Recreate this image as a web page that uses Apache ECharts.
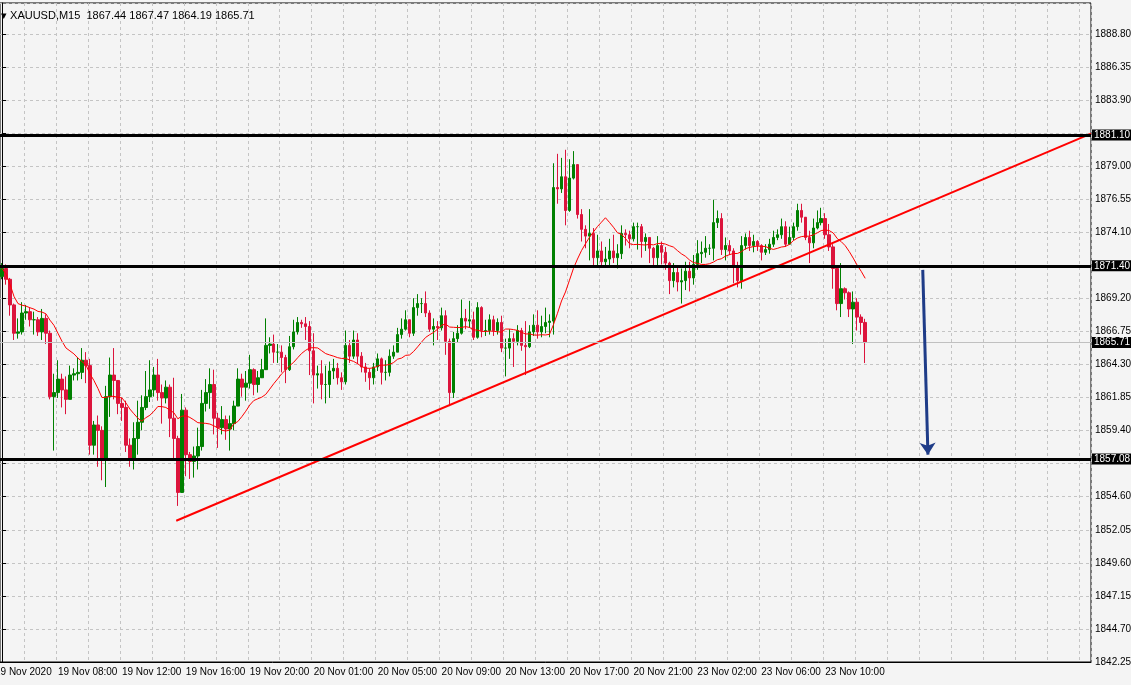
<!DOCTYPE html>
<html>
<head>
<meta charset="utf-8">
<script src="https://cdn.jsdelivr.net/npm/echarts@6/dist/echarts.min.js"></script>
<style>
html,body{margin:0;padding:0;background:#f4f4f4;}
#container{width:1131px;height:685px;}
</style>
</head>
<body>
<div id="container"></div>
<script>
// XAUUSD M15 closes / highs / lows (open = previous close)
var closes = [
1871.2,1870.4,1868.5,1866.4,1866.5,1867.9,1868.0,1867.4,1867.4,1866.5,1867.5,1866.4,
1861.7,1862.0,1863.0,1862.2,1861.5,1863.3,1863.4,1863.5,1864.4,1864.0,1858.1,1859.6,
1859.2,1857.0,1861.7,1863.3,1862.9,1861.2,1860.9,1858.1,1857.0,1858.6,1859.8,1860.9,
1861.7,1862.2,1863.3,1862.0,1861.6,1862.4,1860.1,1858.6,1854.6,1860.7,1857.4,1856.9,
1857.3,1858.0,1861.2,1862.0,1862.6,1860.1,1859.4,1860.0,1859.3,1859.7,1861.0,1863.0,
1862.4,1862.7,1863.7,1862.6,1863.1,1863.7,1865.5,1865.6,1865.0,1865.0,1864.6,1863.7,
1865.4,1866.5,1867.2,1867.1,1866.9,1865.1,1863.3,1863.4,1862.6,1862.6,1863.6,1863.8,
1863.1,1862.8,1865.5,1864.7,1865.9,1864.7,1863.9,1863.5,1863.1,1863.9,1864.5,1863.5,
1863.5,1864.7,1865.0,1866.3,1866.7,1867.4,1866.4,1868.3,1868.6,1868.6,1867.9,1866.7,
1866.9,1866.8,1867.7,1865.8,1862.0,1866.0,1866.4,1867.5,1867.3,1867.4,1866.1,1868.3,
1866.6,1866.6,1867.4,1866.6,1867.2,1865.3,1865.3,1866.0,1865.8,1866.6,1865.5,1865.4,
1866.5,1867.0,1866.5,1866.9,1867.2,1867.3,1877.2,1877.1,1878.0,1875.5,1877.9,1878.9,
1875.2,1874.1,1873.6,1873.8,1872.0,1872.5,1871.7,1871.9,1872.5,1872.0,1872.3,1873.8,
1873.7,1873.4,1874.3,1874.3,1873.2,1873.5,1872.7,1872.0,1872.9,1872.4,1871.6,1870.3,
1870.9,1870.2,1870.3,1871.0,1870.5,1871.5,1872.3,1872.4,1872.7,1872.7,1874.6,1874.9,
1872.6,1872.9,1872.5,1871.4,1870.3,1872.9,1873.5,1872.9,1873.2,1872.9,1872.4,1872.6,
1873.0,1873.5,1873.7,1874.3,1873.0,1873.5,1874.3,1875.5,1875.0,1873.5,1873.1,1874.2,
1874.6,1874.9,1873.7,1872.8,1871.2,1868.6,1869.7,1869.4,1868.2,1868.7,1867.6,1867.2,1865.71
];
var highs = [
1871.6,1871.5,1870.5,1868.6,1867.5,1868.7,1868.5,1868.3,1868.0,1867.6,1868.2,1867.8,
1866.6,1863.4,1864.4,1863.4,1863.2,1864.0,1863.8,1864.6,1865.3,1865.0,1864.5,1859.9,
1860.3,1859.5,1862.5,1864.6,1865.3,1862.5,1861.6,1861.4,1858.6,1859.8,1861.4,1861.8,
1863.6,1864.4,1863.9,1864.5,1862.6,1862.9,1862.6,1863.1,1858.8,1861.9,1860.9,1857.6,
1858.0,1859.4,1862.2,1863.0,1863.8,1863.7,1860.5,1861.0,1860.3,1860.3,1861.4,1863.8,
1863.4,1863.6,1864.8,1863.8,1863.6,1864.5,1867.5,1866.1,1866.3,1865.6,1865.5,1864.8,
1866.2,1867.4,1867.6,1867.4,1867.6,1867.3,1866.4,1864.0,1864.4,1864.0,1864.3,1864.5,
1864.2,1863.5,1866.6,1865.9,1866.6,1866.4,1865.0,1864.2,1863.8,1864.2,1864.9,1864.6,
1864.4,1865.2,1865.5,1866.8,1867.5,1868.1,1867.4,1869.0,1869.3,1869.0,1869.5,1868.1,
1867.5,1867.3,1868.3,1868.1,1866.0,1866.5,1867.0,1868.9,1868.2,1868.8,1868.0,1868.7,
1868.4,1867.4,1867.8,1867.7,1867.5,1867.7,1866.0,1866.7,1866.4,1867.0,1866.8,1867.3,
1867.0,1867.8,1868.1,1867.7,1868.3,1867.8,1879.0,1879.7,1879.4,1880.0,1879.3,1879.9,
1878.8,1875.6,1874.4,1875.6,1874.2,1873.7,1873.2,1872.8,1873.4,1873.7,1873.0,1874.4,
1874.1,1874.0,1874.6,1874.6,1874.5,1873.8,1873.5,1872.8,1873.6,1873.2,1872.8,1871.7,
1871.6,1871.4,1871.2,1871.7,1871.7,1872.2,1873.3,1873.2,1873.6,1873.0,1876.3,1875.5,
1875.3,1873.5,1873.3,1872.7,1871.7,1873.6,1873.8,1874.0,1873.7,1873.3,1873.0,1873.0,
1873.4,1874.0,1874.1,1874.9,1874.7,1874.3,1874.6,1876.0,1876.0,1874.8,1874.0,1874.9,
1875.5,1875.7,1875.3,1874.5,1873.0,1871.4,1871.6,1869.8,1869.5,1869.5,1869.0,1867.8,1867.47
];
var lows = [
1870.4,1870.0,1867.7,1865.9,1866.0,1866.3,1867.4,1866.9,1866.3,1866.2,1865.9,1865.6,
1861.5,1857.7,1861.6,1860.9,1860.4,1861.5,1862.9,1862.9,1863.0,1862.7,1857.4,1857.4,
1856.5,1855.5,1855.0,1860.2,1861.5,1860.4,1859.9,1857.6,1856.5,1856.3,1857.4,1859.2,
1860.7,1861.3,1861.7,1861.4,1859.7,1861.2,1858.7,1857.1,1853.6,1854.7,1855.8,1855.6,
1855.7,1856.3,1857.7,1860.6,1860.8,1858.9,1857.9,1858.9,1858.5,1857.7,1859.2,1861.4,
1861.7,1861.4,1862.3,1861.8,1862.0,1863.2,1863.8,1864.9,1864.2,1864.2,1863.5,1862.7,
1863.6,1865.2,1866.3,1866.8,1865.9,1863.3,1861.2,1862.3,1861.5,1861.2,1861.6,1863.0,
1862.6,1862.2,1862.6,1864.2,1864.5,1864.1,1863.5,1862.8,1862.2,1862.6,1863.6,1862.6,
1862.9,1863.2,1864.5,1865.0,1866.0,1866.6,1866.1,1866.2,1867.7,1867.9,1867.6,1866.5,
1865.5,1865.9,1866.6,1864.8,1861.0,1861.6,1865.7,1866.3,1866.7,1866.8,1865.9,1866.0,
1866.1,1866.2,1866.3,1866.2,1866.3,1865.0,1863.2,1864.5,1863.9,1865.5,1865.1,1863.3,
1865.3,1866.2,1866.0,1866.1,1866.4,1866.1,1866.3,1876.0,1876.8,1874.4,1875.4,1877.8,
1874.9,1873.2,1872.7,1871.8,1871.3,1871.3,1871.3,1871.3,1871.4,1871.6,1871.2,1871.9,
1872.9,1872.7,1873.2,1872.6,1872.0,1872.5,1871.6,1871.3,1871.3,1871.5,1871.1,1869.3,
1869.8,1869.5,1868.6,1869.6,1869.5,1870.0,1871.1,1871.6,1872.0,1872.2,1871.8,1874.2,
1872.2,1871.8,1872.2,1870.1,1869.8,1869.7,1872.6,1872.5,1872.4,1872.5,1871.8,1872.2,
1872.3,1872.8,1873.3,1873.4,1872.8,1873.0,1873.3,1874.0,1874.6,1873.3,1871.6,1872.7,
1874.1,1874.4,1873.4,1872.5,1869.7,1868.1,1867.6,1868.9,1867.6,1865.6,1866.6,1866.3,1864.19
];
var firstOpen = 1870.6;
var timeLabels = ['19 Nov 08:00','19 Nov 12:00','19 Nov 16:00','19 Nov 20:00','20 Nov 01:00','20 Nov 05:00',
  '20 Nov 09:00','20 Nov 13:00','20 Nov 17:00','20 Nov 21:00','23 Nov 02:00','23 Nov 06:00','23 Nov 10:00'];
var firstLabelIdx = 14, labelStep = 16, totalSlots = 273;
var yLabels = ['1842.25','1844.70','1847.15','1849.60','1852.05','1854.60','','1859.40','1861.85','1864.30',
  '1866.75','1869.20','','1874.10','1876.55','1879.00','','1883.90','1886.35','1888.80'];
var levels = [1881.10, 1871.40, 1857.08];
var lastPrice = 1865.71;
var trendLine = [[43.6, 1852.5], [272.5, 1881.2]];
var arrowFrom = [230.4, 1871.1], arrowTo = [231.7, 1857.4];
var maPeriod = 14;

var cats = [], labelMap = {};
for (var i = 0; i < totalSlots; i++) cats.push(String(i));
timeLabels.forEach(function (t, k) { labelMap[firstLabelIdx + k * labelStep] = t; });

var ohlc = closes.map(function (c, i) {
  var o = i === 0 ? firstOpen : closes[i - 1];
  return [o, c, lows[i], highs[i]];
});
var ma = closes.map(function (c, i) {
  var s = 0, n = 0;
  for (var j = Math.max(0, i - maPeriod + 1); j <= i; j++) { s += closes[j]; n++; }
  return +(s / n).toFixed(2);
});

var font = 'Liberation Sans';
var myChart = echarts.init(document.getElementById('container'));
var option = {
  backgroundColor: '#f4f4f4',
  animation: false,
  title: {
    text: '\u25BE XAUUSD,M15  1867.44 1867.47 1864.19 1865.71',
    left: -4, top: 5,
    textStyle: { fontSize: 11, fontWeight: 'normal', color: '#000', fontFamily: font }
  },
  graphic: [{
    type: 'text', left: -5, top: 667,
    style: { text: '19 Nov 2020', fontSize: 10, fill: '#000', fontFamily: font }
  }],
  grid: { left: 0, right: 40, top: 3, bottom: 23, outerBoundsMode: 'none', containLabel: false,
    show: true, borderColor: '#000', borderWidth: 1, backgroundColor: '#f4f4f4' },
  xAxis: [{
    type: 'category', data: cats, boundaryGap: true,
    axisLine: { lineStyle: { color: '#000' } },
    axisTick: { interval: function (i) { return labelMap[i] !== undefined; }, length: 4, lineStyle: { color: '#000' } },
    axisLabel: {
      interval: function (i) { return labelMap[i] !== undefined; },
      formatter: function (v, i) { return labelMap[i] || ''; },
      hideOverlap: false, showMinLabel: true, showMaxLabel: true,
      align: 'left', margin: 5, fontSize: 10, color: '#000', fontFamily: font
    },
    splitLine: { show: true, interval: function (i) { return (i - 6) % 8 === 0; }, lineStyle: { color: '#c4c4c4', type: [3, 3] } }
  }, {
    type: 'value', min: -0.5, max: totalSlots - 0.5, show: false
  }],
  yAxis: {
    type: 'value', position: 'right', min: 1842.03, max: 1890.88, interval: 2.45,
    axisLine: { show: true, lineStyle: { color: '#000' } },
    axisTick: { show: true, length: 4, lineStyle: { color: '#000' } },
    axisLabel: {
      showMaxLabel: false, showMinLabel: true, margin: 4, fontSize: 10, color: '#000', fontFamily: font,
      formatter: function (v) { return yLabels[Math.round((v - 1842.25) / 2.45)] || ''; }
    },
    splitLine: { lineStyle: { color: '#c4c4c4', type: [3, 3] } }
  },
  series: [{
    type: 'candlestick', data: ohlc, barWidth: 3,
    itemStyle: { color: '#008000', color0: '#dc143c', borderColor: '#008000', borderColor0: '#dc143c', borderWidth: 1 },
    markLine: {
      silent: true, symbol: 'none',
      label: { position: 'end', distance: 1, backgroundColor: '#000', color: '#fff', padding: [1, 2, 0, 2], fontSize: 10, fontFamily: font,
        formatter: function (p) { return p.value.toFixed(2); } },
      data: levels.map(function (v) { return { yAxis: v, lineStyle: { color: '#000', width: 3, type: 'solid' } }; })
        .concat([{ yAxis: lastPrice, lineStyle: { color: '#c0c0c0', width: 1, type: 'solid' } }])
    }
  }, {
    type: 'line', data: ma, symbol: 'none', lineStyle: { color: '#ff0000', width: 1 }, z: 3
  }, {
    type: 'line', xAxisIndex: 1, data: trendLine, symbol: 'none', lineStyle: { color: '#ff0000', width: 2 }, z: 4,
    markLine: {
      silent: true, symbol: ['none', 'arrow'], symbolSize: 12, label: { show: false },
      lineStyle: { color: '#1f3c88', width: 3, type: 'solid' },
      data: [[{ coord: arrowFrom }, { coord: arrowTo }]]
    }
  }]
};
myChart.setOption(option);
</script>
</body>
</html>
